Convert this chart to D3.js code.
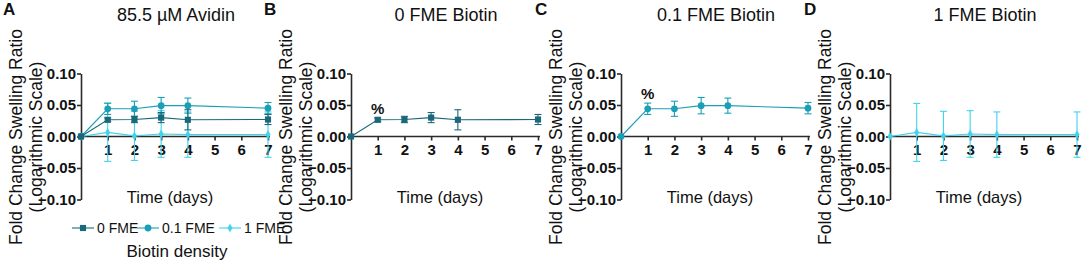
<!DOCTYPE html>
<html><head><meta charset="utf-8">
<script src="https://cdn.jsdelivr.net/npm/d3@7"></script>
<style>
body{margin:0;background:#fff;}
svg{display:block;font-family:"Liberation Sans",Arial,sans-serif;}
</style></head>
<body>
<svg id="c" width="1084" height="264"></svg>
<script>
const days = [0, 1, 2, 3, 4, 7];
const xTicks = [1, 2, 3, 4, 5, 6, 7];
const yTicks = [0.10, 0.05, 0.00, -0.05, -0.10];
const seriesNames = ["0 FME", "0.1 FME", "1 FME"];
const fme0 = [0, 0.0265, 0.027, 0.030, 0.0265, 0.027];
const fme0Err = [0, 0.003, 0.005, 0.008, 0.016, 0.008];
const fme01 = [0, 0.044, 0.044, 0.049, 0.049, 0.045];
const fme01Err = [0, 0.009, 0.012, 0.013, 0.012, 0.009];
const fme1 = [0, 0.0065, 0.001, 0.004, 0.003, 0.003];
const fme1Err = [0, 0.046, 0.039, 0.037, 0.036, 0.036];
const panelTitles = ["85.5 µM Avidin", "0 FME Biotin", "0.1 FME Biotin", "1 FME Biotin"];
const panelLetters = ["A", "B", "C", "D"];

const colors = ["#1c687b", "#1a9fb7", "#3fd3ec"];
const symbols = [d3.symbolSquare, d3.symbolCircle, d3.symbolDiamond];
const symSizes = [38, 36, 22];
const series = [
  {name: seriesNames[0], v: fme0, e: fme0Err, c: colors[0], s: symbols[0], z: symSizes[0]},
  {name: seriesNames[1], v: fme01, e: fme01Err, c: colors[1], s: symbols[1], z: symSizes[1]},
  {name: seriesNames[2], v: fme1, e: fme1Err, c: colors[2], s: symbols[2], z: symSizes[2]}
];
const panels = [
  {sers: [2, 1, 0], pct: null},
  {sers: [0], pct: 0},
  {sers: [1], pct: 1},
  {sers: [2], pct: null}
];
const axisX = [81, 351, 621, 890];
const letterX = [3, 264, 535, 804];

const svg = d3.select("#c");
const y = d3.scaleLinear().domain([-0.1, 0.1]).range([199.5, 73.5]);
const x = d3.scaleLinear().domain([0, 7]).range([0, 187]);
const fmt = d3.format(".2f");

panels.forEach((p, i) => {
  const g = svg.append("g").attr("transform", `translate(${axisX[i]},0)`);
  svg.append("text").attr("x", letterX[i]).attr("y", 15)
    .attr("font-size", 17).attr("font-weight", "bold").attr("fill", "#111")
    .text(panelLetters[i]);
  g.append("text").attr("x", 95).attr("y", 21).attr("text-anchor", "middle")
    .attr("font-size", 18).attr("fill", "#111").text(panelTitles[i]);
  const ya = g.append("g").call(d3.axisLeft(y).tickValues(yTicks).tickFormat(fmt).tickSize(4).tickSizeOuter(0).tickPadding(1));
  ya.selectAll("text").attr("font-size", 15).attr("font-weight", "bold").attr("fill", "#111");
  const xa = g.append("g").attr("transform", `translate(0,${y(0)})`)
    .call(d3.axisBottom(x).tickValues(xTicks).tickFormat(d3.format("d")).tickSize(4).tickSizeOuter(0).tickPadding(4));
  xa.select(".domain").attr("d", `M0,0H${x(7) + 2}`);
  xa.selectAll("text").attr("font-size", 15).attr("font-weight", "bold").attr("fill", "#111");
  g.selectAll(".domain, .tick line").attr("stroke", "#2a2a2a").attr("stroke-width", 1.6);
  g.append("text").attr("transform", `translate(-59,137) rotate(-90)`).attr("text-anchor", "middle")
    .attr("font-size", 17.5).attr("fill", "#111").text("Fold Change Swelling Ratio");
  g.append("text").attr("transform", `translate(-39.5,137) rotate(-90)`).attr("text-anchor", "middle")
    .attr("font-size", 17.5).attr("fill", "#111").text("(Logarithmic Scale)");
  g.append("text").attr("x", 89).attr("y", 203).attr("text-anchor", "middle")
    .attr("font-size", 16.5).attr("fill", "#111").text("Time (days)");

  p.sers.forEach(si => {
    const s = series[si];
    const pts = days.map((d, k) => ({d, v: s.v[k], e: s.e[k]}));
    const sg = g.append("g");
    sg.append("path").datum(pts)
      .attr("d", d3.line().x(q => x(q.d)).y(q => y(q.v)))
      .attr("fill", "none").attr("stroke", s.c).attr("stroke-width", 1.1);
    const eb = sg.selectAll(".eb").data(pts.filter(q => q.e > 0)).enter().append("g");
    eb.append("line").attr("x1", q => x(q.d)).attr("x2", q => x(q.d))
      .attr("y1", q => y(q.v + q.e)).attr("y2", q => y(q.v - q.e))
      .attr("stroke", s.c).attr("stroke-width", 1.1);
    [1, -1].forEach(sign => {
      eb.append("line").attr("x1", q => x(q.d) - 3.5).attr("x2", q => x(q.d) + 3.5)
        .attr("y1", q => y(q.v + sign * q.e)).attr("y2", q => y(q.v + sign * q.e))
        .attr("stroke", s.c).attr("stroke-width", 1.1);
    });
    sg.selectAll(".m").data(pts).enter().append("path")
      .attr("transform", q => `translate(${x(q.d)},${y(q.v)})`)
      .attr("d", d3.symbol().type(s.s).size(s.z)).attr("fill", s.c);
    if (p.pct === si) {
      g.append("text").attr("x", x(days[1])).attr("y", y(s.v[1] + s.e[1]) - 4)
        .attr("text-anchor", "middle").attr("font-size", 15).attr("font-weight", "bold")
        .attr("fill", "#111").text("%");
    }
  });
});

const legX = [72, 137, 219];
const lg = svg.append("g");
series.forEach((s, i) => {
  const gx = legX[i];
  lg.append("line").attr("x1", gx).attr("x2", gx + 22).attr("y1", 228).attr("y2", 228)
    .attr("stroke", s.c).attr("stroke-width", 1.1);
  lg.append("path").attr("transform", `translate(${gx + 11},228)`)
    .attr("d", d3.symbol().type(s.s).size(s.z)).attr("fill", s.c);
  lg.append("text").attr("x", gx + 25).attr("y", 233).attr("font-size", 14)
    .attr("fill", "#111").text(s.name);
});
lg.append("text").attr("x", 177).attr("y", 257).attr("text-anchor", "middle")
  .attr("font-size", 17).attr("fill", "#111").text("Biotin density");
</script>
</body></html>
